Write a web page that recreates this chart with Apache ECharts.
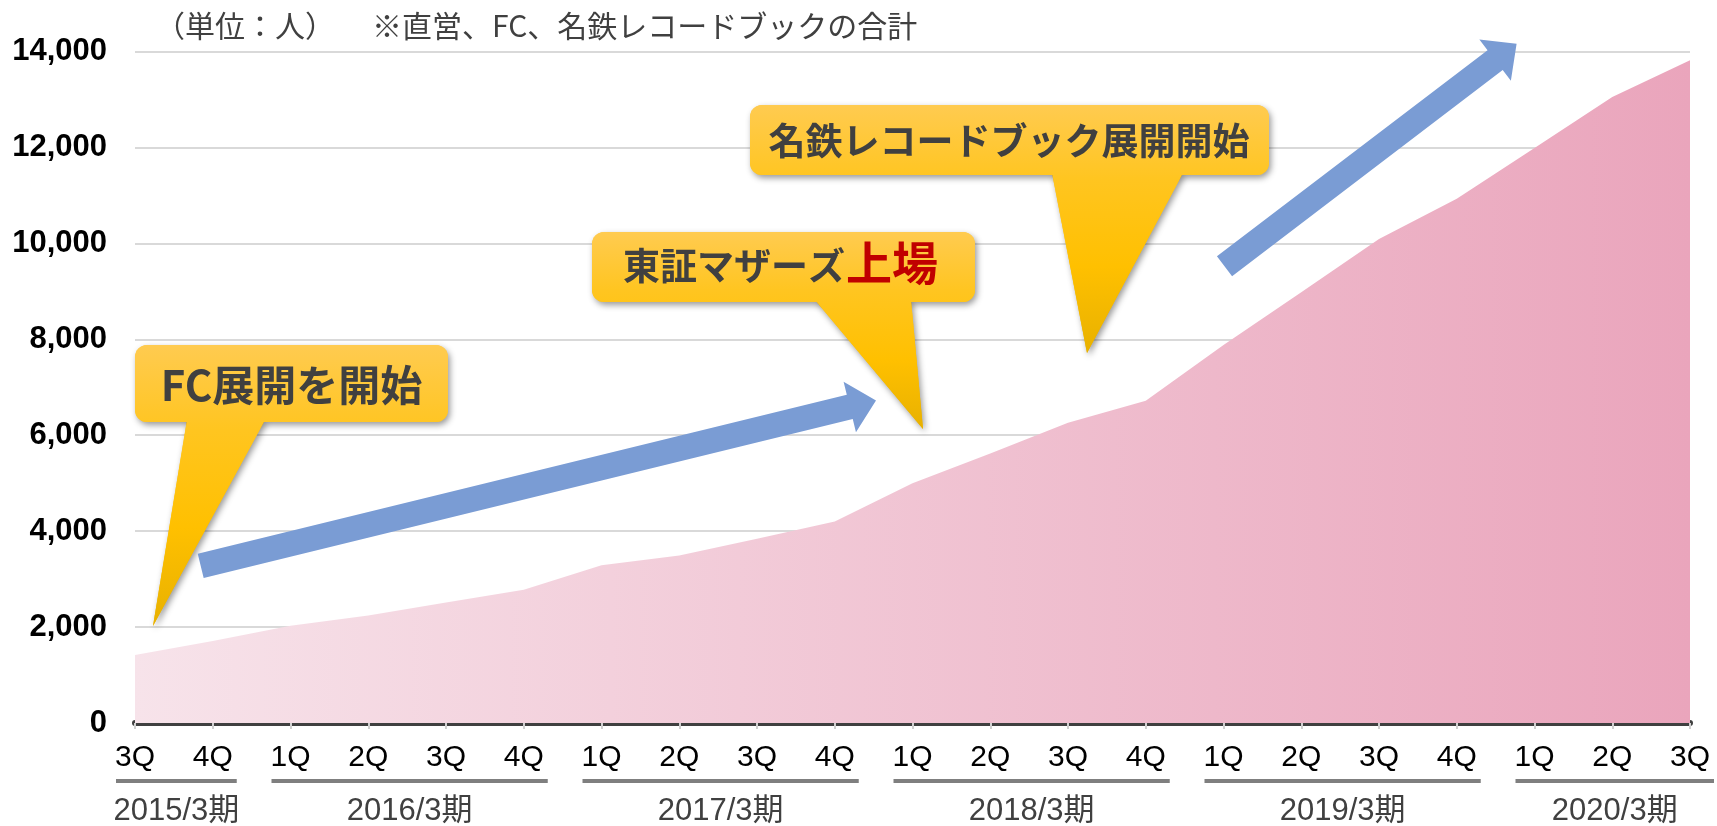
<!DOCTYPE html>
<html>
<head>
<meta charset="utf-8">
<script src="https://cdn.jsdelivr.net/npm/echarts@6/dist/echarts.min.js"></script>
<style>
html, body { margin: 0; padding: 0; background: #fff; }
#chart { width: 1717px; height: 826px; }
</style>
</head>
<body>
<div id="chart"></div>
<script>
// データ
var quarters = ['3Q', '4Q', '1Q', '2Q', '3Q', '4Q', '1Q', '2Q', '3Q', '4Q', '1Q', '2Q', '3Q', '4Q', '1Q', '2Q', '3Q', '4Q', '1Q', '2Q', '3Q'];
var members = [1420, 1710, 2030, 2240, 2510, 2780, 3290, 3490, 3840, 4200, 5000, 5620, 6260, 6720, 7880, 8980, 10090, 10930, 11990, 13050, 13820];
var fiscalYears = ['2015/3期', '2016/3期', '2017/3期', '2018/3期', '2019/3期', '2020/3期'];
var fiscalFrom = [0, 2, 6, 10, 14, 18];
var fiscalTo = [1, 5, 9, 13, 17, 20];
var yMin = 0, yMax = 14000, yStep = 2000;
var unitText = '（単位：人）';
var noteText = '※直営、FC、名鉄レコードブックの合計';

var chart = echarts.init(document.getElementById('chart'));

var option = {
    animation: false,
    grid: {
        left: 135,
        right: 27,
        top: 51.5,
        bottom: 103,
        containLabel: false,
        outerBoundsMode: 'none'
    },
    xAxis: {
        type: 'category',
        data: quarters,
        boundaryGap: false,
        axisLine: { lineStyle: { color: '#404040', width: 6 } },
        axisTick: { show: true, length: 6, lineStyle: { color: '#d0d0d0', width: 2 } },
        axisLabel: {
            margin: 20,
            fontSize: 30,
            color: '#000',
            fontFamily: 'Liberation Sans, Arial, sans-serif'
        },
        splitLine: { show: false }
    },
    yAxis: {
        type: 'value',
        min: yMin,
        max: yMax,
        interval: yStep,
        axisLine: { show: false },
        axisTick: { show: false },
        axisLabel: {
            margin: 28,
            fontSize: 31,
            fontWeight: 'bold',
            color: '#000',
            fontFamily: 'Liberation Sans, Arial, sans-serif',
            formatter: function (v) { return v.toLocaleString('en-US'); }
        },
        splitLine: { lineStyle: { color: '#d9d9d9', width: 2 } }
    },
    series: [{
        type: 'line',
        data: members,
        showSymbol: false,
        lineStyle: { width: 0 },
        areaStyle: {
            opacity: 1,
            color: new echarts.graphic.LinearGradient(0, 0, 1, 0, [
                { offset: 0, color: '#f7e3ea' },
                { offset: 1, color: '#eaa5bc' }
            ])
        },
        z: 2
    }]
};
chart.setOption(option);

// 吹き出し（角丸の箱 + 三角）
function callout(box, base, tip, texts) {
    var grad = new echarts.graphic.LinearGradient(0, box.y, 0, tip[1], [
        { offset: 0, color: '#ffcb50' },
        { offset: 0.3, color: '#ffc520' },
        { offset: 0.65, color: '#ffc000' },
        { offset: 1, color: '#e8b100' }
    ], true);
    var pts = [[base[0], box.y + box.h - 2], [base[1], box.y + box.h - 2], tip];
    var shadow = { shadowBlur: 6, shadowOffsetX: 2, shadowOffsetY: 3, shadowColor: 'rgba(0,0,0,0.4)' };
    var children = [
        { type: 'polygon', shape: { points: pts }, style: Object.assign({ fill: grad }, shadow) },
        { type: 'rect', shape: { x: box.x, y: box.y, width: box.w, height: box.h, r: 12 }, style: Object.assign({ fill: grad }, shadow) },
        { type: 'polygon', shape: { points: pts }, style: { fill: grad } },
        { type: 'rect', shape: { x: box.x, y: box.y, width: box.w, height: box.h, r: 12 }, style: { fill: grad } }
    ];
    texts.forEach(function (t) {
        children.push({
            type: 'text',
            style: {
                x: t.x, y: t.y, text: t.text,
                fill: t.color || '#404040',
                font: 'bold ' + t.size + 'px "Noto Sans CJK JP", sans-serif',
                align: t.align || 'center',
                verticalAlign: 'middle'
            }
        });
    });
    return { type: 'group', z: 20, children: children };
}

// 矢印
function arrow(tail, tip) {
    var shaftW = 25, headLen = 27, headHalf = 26;
    var dx = tip[0] - tail[0], dy = tip[1] - tail[1];
    var len = Math.sqrt(dx * dx + dy * dy);
    var ux = dx / len, uy = dy / len, nx = -uy, ny = ux;
    var ex = tip[0] - ux * headLen, ey = tip[1] - uy * headLen;
    var pts = [
        [tail[0] + nx * shaftW / 2, tail[1] + ny * shaftW / 2],
        [ex + nx * shaftW / 2, ey + ny * shaftW / 2],
        [ex + nx * headHalf, ey + ny * headHalf],
        tip,
        [ex - nx * headHalf, ey - ny * headHalf],
        [ex - nx * shaftW / 2, ey - ny * shaftW / 2],
        [tail[0] - nx * shaftW / 2, tail[1] - ny * shaftW / 2]
    ];
    return { type: 'polygon', z: 15, shape: { points: pts }, style: { fill: '#7a9cd4' } };
}

var graphics = [];

// 上部の注記
graphics.push({ type: 'text', z: 10, style: { x: 155, y: 26, text: unitText, fill: '#404040', font: '30px "Noto Sans CJK JP", sans-serif', verticalAlign: 'middle' } });
graphics.push({ type: 'text', z: 10, style: { x: 372, y: 26, text: noteText, fill: '#404040', font: '30px "Noto Sans CJK JP", sans-serif', verticalAlign: 'middle' } });

// 期の下線とラベル
fiscalYears.forEach(function (name, i) {
    var x0 = chart.convertToPixel({ xAxisIndex: 0 }, fiscalFrom[i]) - 19;
    var x1 = chart.convertToPixel({ xAxisIndex: 0 }, fiscalTo[i]) + 24;
    graphics.push({ type: 'rect', z: 10, shape: { x: x0, y: 779, width: x1 - x0, height: 4 }, style: { fill: '#7f7f7f' } });
    graphics.push({
        type: 'text', z: 10,
        style: {
            x: (x0 + x1) / 2, y: 811, text: name, fill: '#404040',
            font: '31px "Liberation Sans", "Noto Sans CJK JP", sans-serif',
            align: 'center', verticalAlign: 'middle'
        }
    });
});

// 矢印
graphics.push(arrow([200.7, 565.8], [876, 400.5]));
graphics.push(arrow([1224.5, 266.3], [1516.6, 43.8]));

// 吹き出し
graphics.push(callout({ x: 135, y: 345, w: 313, h: 77 }, [187, 265], [153, 626], [
    { x: 291.5, y: 385, text: 'FC展開を開始', size: 42 }
]));
graphics.push(callout({ x: 592, y: 232, w: 383, h: 70 }, [815, 911], [923, 429], [
    { x: 623, y: 266, text: '東証マザーズ', size: 37, align: 'left' },
    { x: 846, y: 263, text: '上場', size: 46, align: 'left', color: '#c00000' }
]));
graphics.push(callout({ x: 750, y: 105, w: 519, h: 70 }, [1052, 1183], [1087, 353], [
    { x: 1009, y: 141, text: '名鉄レコードブック展開開始', size: 37 }
]));

chart.setOption({ graphic: graphics });
</script>
</body>
</html>
